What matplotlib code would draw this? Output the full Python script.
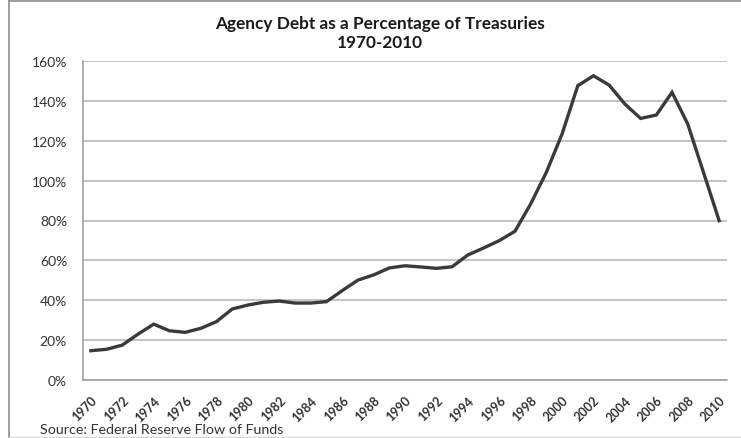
import matplotlib
matplotlib.use("Agg")
import matplotlib.pyplot as plt
from matplotlib.lines import Line2D
from matplotlib.ticker import FuncFormatter, MultipleLocator

plt.rcParams['font.family'] = ['Lato', 'DejaVu Sans']

# Agency debt outstanding as a percentage of Treasury debt, 1970-2010
years = list(range(1970, 2011))
agency_pct = [
    14.7, 15.4, 17.5, 23.0, 28.0, 24.7, 23.9, 25.9, 29.3, 35.6,
    37.6, 39.0, 39.6, 38.6, 38.6, 39.3, 44.8, 50.1, 52.7, 56.2,
    57.3, 56.7, 56.0, 56.8, 62.7, 66.2, 69.9, 74.6, 88.3, 104.2,
    123.4, 147.6, 152.6, 147.9, 138.4, 131.2, 132.9, 144.3, 128.4, 104.2,
    79.9,
]
tick_years = years[::2]

title_line1 = "Agency Debt as a Percentage of Treasuries"
title_line2 = "1970-2010"
source_text = "Source: Federal Reserve Flow of Funds"

W, H = 741, 439
fig = plt.figure(figsize=(W / 100, H / 100), dpi=100)
fig.patch.set_facecolor("white")

# outer chart frame
frame_col = "#8c8c8c"
fig.add_artist(Line2D([9 / W, 9 / W], [0, 1 - 2 / H], color=frame_col, lw=1.2))
fig.add_artist(Line2D([9 / W, 1], [1 - 2 / H, 1 - 2 / H], color=frame_col, lw=1.2))
fig.add_artist(Line2D([9 / W, 1], [1 - 438 / H, 1 - 438 / H], color="#d8d8d8", lw=1.0))

left, right, top, bottom = 83, 727, 62, 381
ax = fig.add_axes([left / W, 1 - bottom / H, (right - left) / W, (bottom - top) / H])

ax.plot(years, agency_pct, color="#3a3a3a", lw=2.4, solid_joinstyle="miter", zorder=3)

ax.set_xlim(1969.5, 2010.5)
ax.set_ylim(0, 160)
ax.yaxis.set_major_locator(MultipleLocator(20))
ax.yaxis.set_major_formatter(FuncFormatter(lambda v, p: f"{v:.0f}%"))
ax.set_xticks(tick_years)
ax.set_xticklabels([str(y) for y in tick_years], rotation=45, ha="right", va="top",
                   rotation_mode="anchor", fontsize=9, color="#333333", fontweight="bold")
for lbl in ax.get_yticklabels():
    lbl.set_fontsize(10)
    lbl.set_color("#333333")
ax.tick_params(axis="both", length=0)
ax.tick_params(axis="y", pad=11.5)
ax.tick_params(axis="x", pad=10)

ax.grid(axis="y", color="#b4b4b4", lw=1.1)
ax.set_axisbelow(True)
for s in ("top", "right"):
    ax.spines[s].set_visible(False)
ax.spines["left"].set_color("#9a9a9a")
ax.spines["bottom"].set_color("#9a9a9a")
ax.spines["left"].set_linewidth(1.1)
ax.spines["bottom"].set_linewidth(1.1)

fig.text(380 / W, 1 - 24 / H, title_line1, ha="center", va="center", fontsize=12.4,
         fontweight="bold", color="#1a1a1a")
fig.text(380 / W, 1 - 43 / H, title_line2, ha="center", va="center", fontsize=12.4,
         fontweight="bold", color="#1a1a1a")
fig.text(40 / W, 1 - 430 / H, source_text, ha="left", va="center", fontsize=10.3,
         color="#333333")

fig.savefig("out.png", dpi=100, facecolor="white")
